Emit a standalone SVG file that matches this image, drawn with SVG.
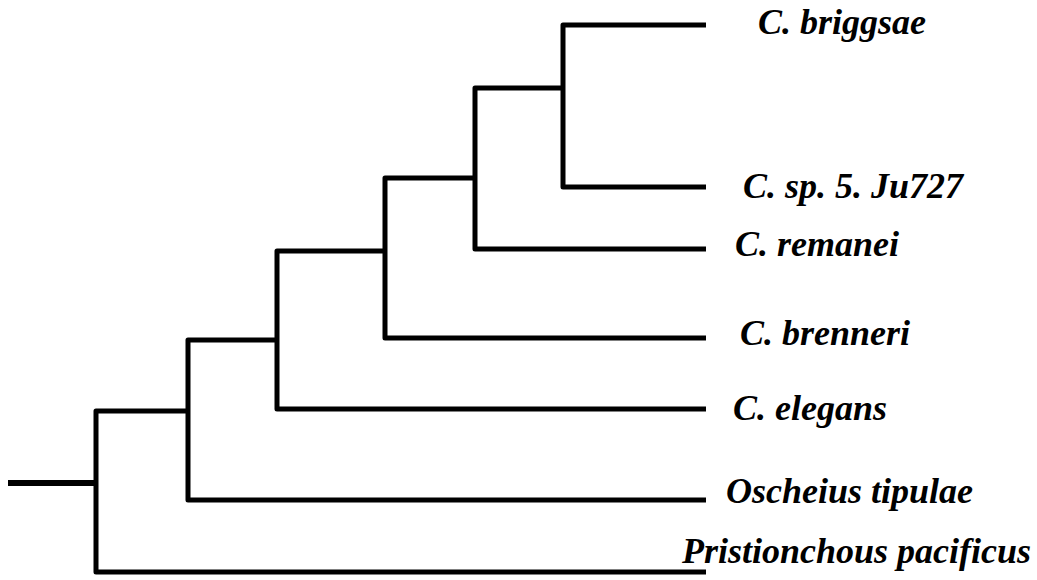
<svg xmlns="http://www.w3.org/2000/svg" width="1037" height="580" viewBox="0 0 1037 580">
  <style>
    .branch { fill: none; stroke: #000; stroke-width: 5; stroke-linejoin: round; stroke-linecap: butt; }
    .taxon { font-family: "Liberation Serif", "Times New Roman", serif; font-weight: bold; font-style: italic; font-size: 36px; fill: #000; }
  </style>
  <rect width="1037" height="580" fill="#fff"/>

  <!-- tree branches -->
  <g id="connectors">
    <path class="branch" d="M8 483 H96" style="stroke-width:6"/>
    <path class="branch" d="M188 411 H96 V572 H706"/>
    <path class="branch" d="M277 340 H188 V500 H706"/>
    <path class="branch" d="M385 251 H277 V409 H706"/>
    <path class="branch" d="M475 178 H385 V338 H706"/>
    <path class="branch" d="M563 88 H475 V249 H706"/>
    <path class="branch" d="M706 25 H563 V187 H706"/>
  </g>

  <!-- taxon labels -->
  <g id="c-briggsae"><text class="taxon" x="758" y="34">C. briggsae</text></g>
  <g id="c-sp5"><text class="taxon" x="743" y="198">C. sp. 5. Ju727</text></g>
  <g id="c-remanei"><text class="taxon" x="735" y="256">C. remanei</text></g>
  <g id="c-brenneri"><text class="taxon" x="740" y="345">C. brenneri</text></g>
  <g id="c-elegans"><text class="taxon" x="733" y="420">C. elegans</text></g>
  <g id="oscheius"><text class="taxon" x="726" y="503">Oscheius tipulae</text></g>
  <g id="pristionchus"><text class="taxon" x="682" y="563">Pristionchous pacificus</text></g>
</svg>
